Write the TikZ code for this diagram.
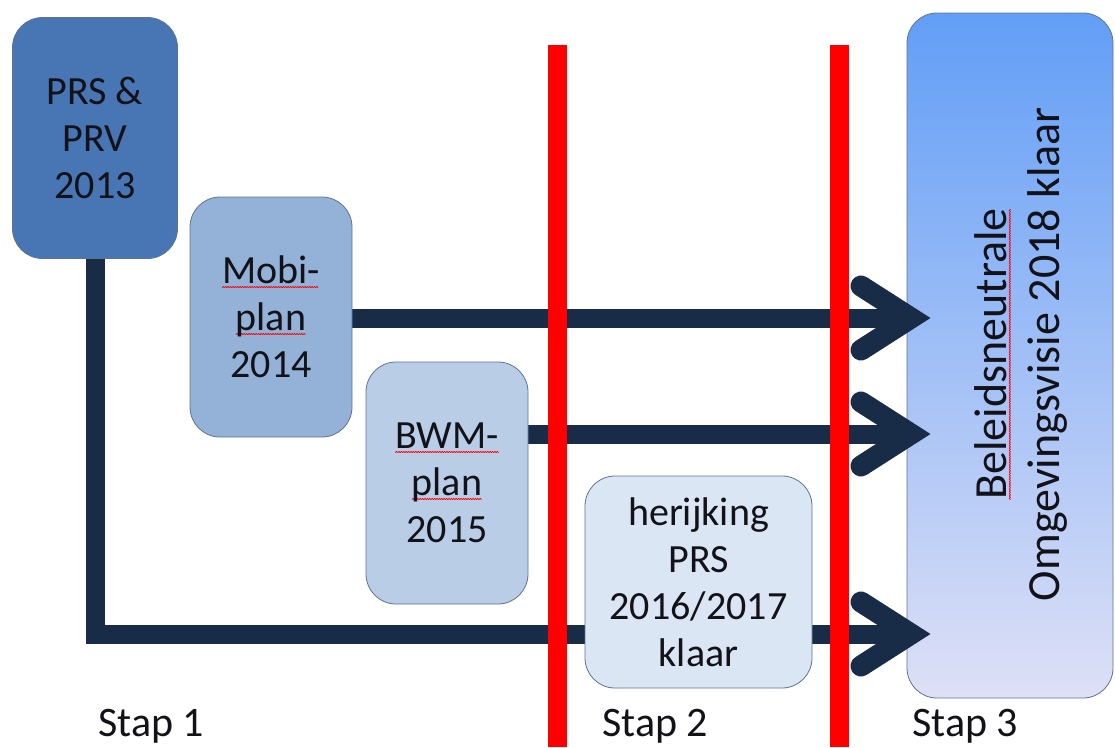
\documentclass[tikz,border=0pt]{standalone}
\usepackage{fontspec}
\setmainfont{Carlito}
\definecolor{navy}{RGB}{24,44,72}
\definecolor{txt}{RGB}{18,18,24}
\definecolor{cPRS}{RGB}{72,117,180}
\definecolor{cMobi}{RGB}{148,178,215}
\definecolor{cBWM}{RGB}{185,205,231}
\definecolor{cHer}{RGB}{219,230,244}
\definecolor{edge}{RGB}{95,115,145}
\definecolor{gTop}{RGB}{98,158,246}
\definecolor{gMid}{RGB}{140,186,245}
\definecolor{gBot}{RGB}{222,224,246}
\newsavebox\wavebox
\newsavebox\errbox
\newcommand\spellerr[1]{\sbox\errbox{#1}\rlap{\raisebox{-4pt}{\hbox to\wd\errbox{\leaders\copy\wavebox\hfill}}}\usebox\errbox}
\tikzset{
  box/.style={draw=edge, line width=0.8pt, rounded corners=30pt, inner sep=0pt,
    align=center, text=txt, font=\fontsize{40}{47}\selectfont},
  shaft/.style={draw=navy, line width=19pt, line join=miter},
  chev/.style={draw=navy, line width=21pt, line join=miter, line cap=round},
  redbar/.style={draw=red, line width=19pt},
  stap/.style={anchor=base west, text=txt, inner sep=0pt, font=\fontsize{42}{50}\selectfont}
}
\begin{document}
\sbox\wavebox{\begin{pgfpicture}%
  \pgfpathrectangle{\pgfpointorigin}{\pgfpoint{2.4pt}{1.4pt}}\pgfusepath{use as bounding box}%
  \pgfsetlinewidth{0.7pt}\pgfsetcolor{red}\pgfsetroundjoin
  \pgfpathmoveto{\pgfpointorigin}\pgfpathlineto{\pgfpoint{1.2pt}{1.4pt}}\pgfpathlineto{\pgfpoint{2.4pt}{0pt}}%
  \pgfusepath{stroke}%
\end{pgfpicture}}%
\begin{tikzpicture}[x=1pt,y=-1pt]
\useasboundingbox (0,0) rectangle (1115,747);
% big target box
\node[box, minimum width=206pt, minimum height=685pt, top color=gTop, middle color=gMid,
  bottom color=gBot, draw=edge] (big) at (1010,355.5) {};
\coordinate (tip1) at (932,318);
\coordinate (tip2) at (932,434);
\coordinate (tip3) at (932,634);
\path (95,138) coordinate (prsc) (271,317) coordinate (mobic) (447,483) coordinate (bwmc) (698.5,582) coordinate (herc);
\path (prsc) node[minimum width=165pt, minimum height=241pt, inner sep=0pt] (prsA) {}
      (mobic) node[minimum width=162pt, minimum height=240pt, inner sep=0pt] (mobiA) {}
      (bwmc) node[minimum width=162pt, minimum height=242pt, inner sep=0pt] (bwmA) {};
% shafts
\draw[shaft] (prsA.south) -- (prsA.south |- tip3) -- ([xshift=-20pt]tip3);
\draw[shaft] (mobiA.east |- tip1) -- ([xshift=-20pt]tip1);
\draw[shaft] (bwmA.east |- tip2) -- ([xshift=-20pt]tip2);
% boxes
\node[box, fill=cPRS, minimum width=165pt, minimum height=241pt] (prs) at (prsc) {PRS \&\\PRV\\2013};
\node[box, fill=cMobi, minimum width=162pt, minimum height=240pt] (mobi) at (mobic) {\spellerr{Mobi-}\\\spellerr{plan}\\2014};
\node[box, fill=cBWM, minimum width=162pt, minimum height=242pt] (bwm) at (bwmc) {\spellerr{BWM-}\\\spellerr{plan}\\2015};
\node[box, fill=cHer, minimum width=227pt, minimum height=212pt] (her) at (herc) {herijking\\PRS\\2016/2017\\klaar};
% arrow heads
\foreach \t in {tip1,tip2,tip3}{
  \draw[chev] ([shift={(-71pt,-32pt)}]\t) -- ([xshift=-21pt]\t) -- ([shift={(-71pt,32pt)}]\t);
}
% red bars
\coordinate (r1t) at (557,45);
\coordinate (r1b) at (557,747);
\coordinate (r2t) at (839,45);
\coordinate (r2b) at (839,747);
\draw[redbar] (r1t) -- (r1b);
\draw[redbar] (r2t) -- (r2b);
% rotated text
\node[rotate=90, align=center, text=txt, font=\fontsize{46}{53}\selectfont] (vis) at (1021,354)
  {\spellerr{Beleidsneutrale}\\Omgevingsvisie 2018 klaar};
% step labels
\node[stap] (s1) at (98,736) {Stap 1};
\node[stap] (s2) at (602,736) {Stap 2};
\node[stap] (s3) at (912,736) {Stap 3};
\end{tikzpicture}
\end{document}
